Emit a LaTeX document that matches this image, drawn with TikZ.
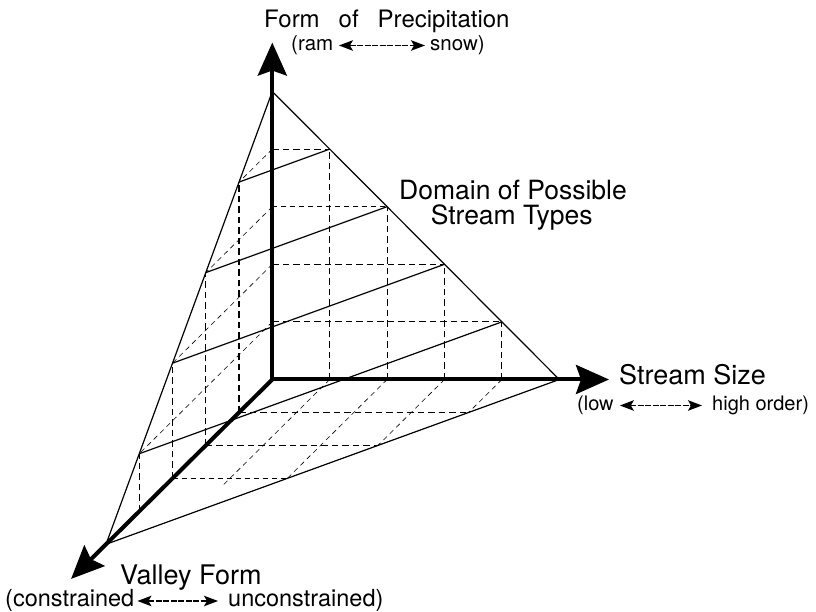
\documentclass[tikz,border=0pt]{standalone}
\usepackage{fontspec}
\setmainfont{TeX Gyre Heros}
\usetikzlibrary{arrows.meta}
\tikzset{
  axisline/.style={line width=4pt, -{Stealth[length=33pt,width=29pt,inset=5pt]}},
  edgeline/.style={line width=1.2pt},
  gridline/.style={line width=1.1pt, dash pattern=on 6.5pt off 4pt},
  fineline/.style={line width=0.6pt, dash pattern=on 5pt off 4pt},
  lbl/.style={inner sep=0pt, anchor=base west},
  smallarrow/.style={line width=1.2pt, dash pattern=on 6pt off 1.5pt,
    {Stealth[length=14pt,width=10.5pt,inset=3pt]}-{Stealth[length=14pt,width=10.5pt,inset=3pt]}}
}
\begin{document}
\begin{tikzpicture}[x=1pt,y=1pt]
\useasboundingbox (0,0) rectangle (816,612);
\fill[white] (0,0) rectangle (816,612);
\begin{scope}[shift={(272.3pt,232.5pt)}, x={(57.4pt,0pt)}, y={(-33.26pt,-32.96pt)}, z={(0pt,57.6pt)}]
  \coordinate (O) at (0,0,0);
  \coordinate (A) at (0,0,5);
  \coordinate (R) at (5,0,0);
  \coordinate (L) at (0,5,0);
  \coordinate (ZT) at (0,0,5.85);
  \coordinate (XT) at (5.866,0,0);
  \coordinate (YT) at (0,6.05,0);
  % back wall (Y=0)
  \foreach \k in {1,2,4} { \draw[gridline] (0,0,\k) -- ({5-\k},0,\k); }
  \draw[fineline] (0,0,3) -- (2,0,3);
  \foreach \k in {1,...,4} { \draw[gridline] (\k,0,0) -- (\k,0,{5-\k}); }
  % left wall (X=0)
  \foreach \k in {1,...,4} { \draw[gridline] (0,\k,0) -- (0,\k,{5-\k}); }
  \foreach \k in {1,...,4} { \draw[fineline] (0,0,\k) -- (0,{5-\k},\k); }
  % floor (Z=0)
  \foreach \k in {1,2} { \draw[gridline] (0,\k,0) -- ({5-\k},\k,0); }
  \draw[fineline] (0,3,0) -- (2,3,0);
  \draw[fineline] (1,0,0) -- (1,3.25,0);
  \foreach \k in {2,3,4} { \draw[fineline] (\k,0,0) -- (\k,{5-\k},0); }
  % contour lines on the domain
  \foreach \k in {1,...,4} { \draw[edgeline] (0,{5-\k},\k) -- ({5-\k},0,\k); }
  % domain triangle
  \draw[edgeline] (A) -- (R) -- (L) -- cycle;
  % axes
  \draw[axisline] (O) -- (ZT);
  \draw[axisline] (O) -- (XT);
  \draw[axisline] (O) -- (YT);
\end{scope}
% labels
\node[lbl, font=\fontsize{24}{28}\selectfont] (fop) at (264,584) {Form\hspace{19pt}of\hspace{19pt}Precipitation};
\node[lbl, font=\fontsize{20.5}{24}\selectfont] (ram) at (291,561) {(ram};
\node[lbl, font=\fontsize{20.5}{24}\selectfont] (snow) at (430,561) {snow)};
\draw[smallarrow] ([xshift=5.5pt,yshift=5.5pt]ram.base east) -- ([xshift=-5pt,yshift=5.5pt]snow.base west);

\node[lbl, font=\fontsize{27}{32}\selectfont] (ss) at (619,227) {Stream Size};
\node[lbl, font=\fontsize{20}{24}\selectfont] (low) at (577,201) {(low};
\node[lbl, font=\fontsize{20}{24}\selectfont] (high) at (712,201) {high order)};
\draw[smallarrow] ([xshift=6pt,yshift=5.5pt]low.base east) -- ([xshift=-10pt,yshift=5.5pt]high.base west);

\node[lbl, font=\fontsize{27}{32}\selectfont] (vf) at (120,27) {Valley Form};
\node[lbl, font=\fontsize{23.5}{28}\selectfont] (con) at (5,5) {(constrained};
\node[lbl, font=\fontsize{23.5}{28}\selectfont] (uncon) at (228,5) {unconstrained)};
\draw[smallarrow] ([xshift=3pt,yshift=6pt]con.base east) -- ([xshift=-10pt,yshift=6pt]uncon.base west);

\node[inner sep=0pt, anchor=base, font=\fontsize{26.5}{30}\selectfont] (dom1) at (513,412.7) {Domain of Possible};
\node[inner sep=0pt, anchor=base, font=\fontsize{26.5}{30}\selectfont] (dom2) at (511.7,387.7) {Stream Types};
\end{tikzpicture}
\end{document}
